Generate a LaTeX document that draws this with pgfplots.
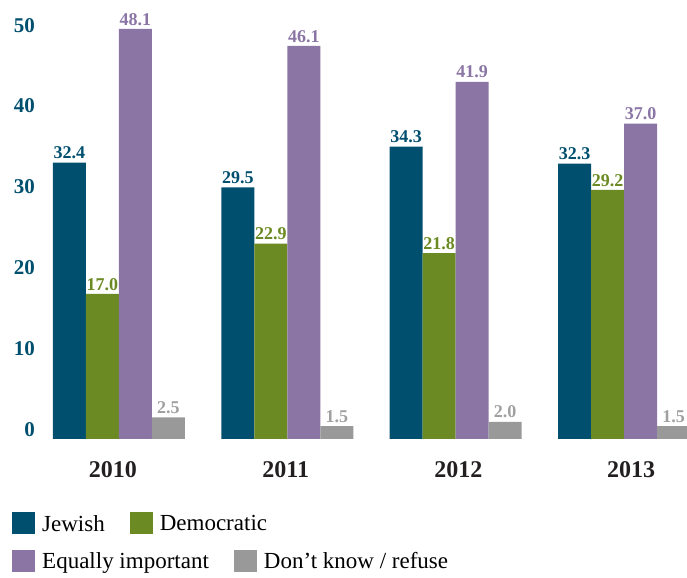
\documentclass[border=0pt]{standalone}
\usepackage{fontspec}
\setmainfont{Liberation Serif}
\usepackage{pgfplots}
\pgfplotsset{compat=1.18}

\definecolor{jewcol}{RGB}{0,79,110}
\definecolor{demcol}{RGB}{107,138,35}
\definecolor{eqcol}{RGB}{138,117,165}
\definecolor{dkcol}{RGB}{153,153,153}
\definecolor{dklab}{RGB}{160,160,160}
\definecolor{ticktxt}{RGB}{35,31,32}

\pgfplotsset{
  sqimg/.style={legend image code/.code={\fill[##1] (0pt,-11pt) rectangle (23pt,11pt);}},
  legrow/.style={
    legend columns=-1,
    legend cell align=left,
    legend style={draw=none, fill=none, inner sep=0pt, anchor=west,
      font=\rmfamily\fontsize{23}{25}\selectfont,
      nodes={inner sep=0pt, text depth=0pt},
      /tikz/every odd column/.style={column sep=7pt},
      /tikz/every even column/.style={column sep=25pt}},
  },
}

\begin{document}
\begin{tikzpicture}
\useasboundingbox (-42pt,-138.3pt) rectangle (645pt,438.8pt);
\begin{axis}[
  scale only axis, width=645pt, height=438.8pt,
  xmin=-0.4574, xmax=3.3743, ymin=0, ymax=51.5,
  ybar=0pt, bar width=33pt,
  axis line style={draw=none}, major tick length=0pt,
  xtick={0,1,2,3}, xticklabels={2010,2011,2012,2013},
  ytick={0,10,20,30,40,50},
  /pgf/number format/assume math mode=true,
  clip=false,
  xticklabel style={font=\fontsize{24}{26}\selectfont\bfseries, text=ticktxt,
    anchor=north, inner sep=0pt, yshift=-23pt,
    xshift={(-6+4.4*\tick)*1pt}},
  yticklabel style={font=\fontsize{21}{23}\selectfont\bfseries, text=jewcol,
    anchor=east, inner sep=0pt, xshift=-7pt,
    yshift={(9.5-0.44*\tick)*1pt}},
  nodes near coords={\pgfmathprintnumber[fixed,fixed zerofill,precision=1]{\pgfplotspointmeta}},
  every node near coord/.append style={font=\fontsize{18}{20}\selectfont\bfseries},
  legrow,
  legend style={at={(axis description cs:-0.0465,-0.1921)}},
]
\addplot[fill=jewcol, draw=none, sqimg, every node near coord/.append style={text=jewcol}]
  coordinates {(0,32.4) (1,29.5) (2,34.3) (3,32.3)};
\addlegendentry{Jewish}
\addplot[fill=demcol, draw=none, sqimg, every node near coord/.append style={text=demcol}]
  coordinates {(0,17.0) (1,22.9) (2,21.8) (3,29.2)};
\addlegendentry{Democratic}
\addplot[fill=eqcol, draw=none, sqimg, every node near coord/.append style={text=eqcol}]
  coordinates {(0,48.1) (1,46.1) (2,41.9) (3,37.0)};
\addplot[fill=dkcol, draw=none, sqimg, every node near coord/.append style={text=dklab}]
  coordinates {(0,2.5) (1,1.5) (2,2.0) (3,1.5)};
\end{axis}
% second legend row
\begin{axis}[
  scale only axis, width=645pt, height=438.8pt,
  xmin=0, xmax=1, ymin=0, ymax=1,
  hide axis,
  legrow,
  legend style={at={(axis description cs:-0.0465,-0.2776)}},
]
\addlegendimage{fill=eqcol, draw=none, sqimg}
\addlegendentry{Equally important}
\addlegendimage{fill=dkcol, draw=none, sqimg}
\addlegendentry{Don’t know / refuse}
\end{axis}
\end{tikzpicture}
\end{document}
